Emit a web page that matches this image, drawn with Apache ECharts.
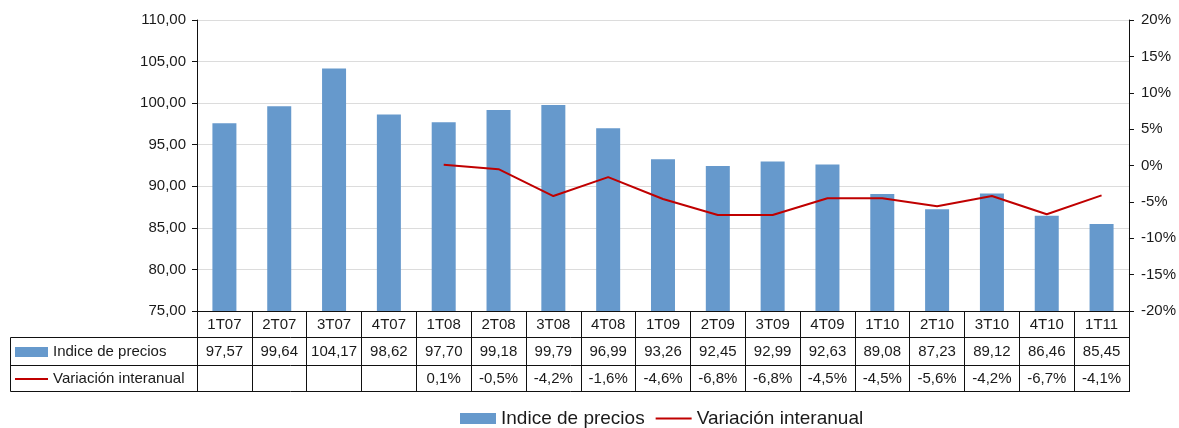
<!DOCTYPE html>
<html><head><meta charset="utf-8">
<script src="https://cdn.jsdelivr.net/npm/echarts@6/dist/echarts.min.js"></script>
<style>html,body{margin:0;padding:0;background:#fff}#c{width:1179px;height:428px}</style>
</head><body><div id="c"></div>
<script>
const categories = ['1T07','2T07','3T07','4T07','1T08','2T08','3T08','4T08','1T09','2T09','3T09','4T09','1T10','2T10','3T10','4T10','1T11'];
const indicePrecios = [97.57,99.64,104.17,98.62,97.70,99.18,99.79,96.99,93.26,92.45,92.99,92.63,89.08,87.23,89.12,86.46,85.45];
const variacion = [null,null,null,null,0.1,-0.5,-4.2,-1.6,-4.6,-6.8,-6.8,-4.5,-4.5,-5.6,-4.2,-6.7,-4.1];
const seriesNames = ['Indice de precios','Variación interanual'];

const FONT = '"Liberation Sans", Arial, sans-serif';
const TXT = '#1a1a1a';
const fmt2 = v => v.toFixed(2).replace('.', ',');
const fmtPct = v => v == null ? '' : v.toFixed(1).replace('.', ',') + '%';

const chart = echarts.init(document.getElementById('c'), null, {renderer:'canvas'});
const lab = {fontFamily: FONT, fontSize: 15, color: TXT};
chart.setOption({
  animation: false,
  textStyle: {fontFamily: FONT},
  grid: {left: 197, right: 49, top: 20, bottom: 117, containLabel: false},
  legend: {
    left: 455, top: 404, itemWidth: 36, itemHeight: 11, itemGap: 10,
    textStyle: {fontFamily: FONT, fontSize: 19, color: TXT},
    data: [{name: seriesNames[0], icon: 'rect'},
           {name: seriesNames[1], itemStyle: {opacity: 0}, lineStyle: {color: '#c00000', width: 2}}]
  },
  xAxis: [
    {type: 'category', data: categories, position: 'bottom', boundaryGap: true,
     axisLine: {onZero: false, lineStyle: {color: '#111', width: 1}},
     axisTick: {show: true, length: 80, lineStyle: {color: '#111'}},
     axisLabel: Object.assign({margin: 6, interval: 0}, lab)},
    {type: 'category', data: categories, position: 'bottom', offset: 27,
     axisLine: {show: false, onZero: false}, axisTick: {show: false},
     axisLabel: Object.assign({margin: 6, interval: 0, formatter: (v, i) => fmt2(indicePrecios[i])}, lab)},
    {type: 'category', data: categories, position: 'bottom', offset: 54,
     axisLine: {show: false, onZero: false}, axisTick: {show: false},
     axisLabel: Object.assign({margin: 6, interval: 0, formatter: (v, i) => fmtPct(variacion[i])}, lab)}
  ],
  yAxis: [
    {type: 'value', min: 75, max: 110, interval: 5, position: 'left',
     axisLine: {show: true, onZero: false, lineStyle: {color: '#111'}},
     axisTick: {show: true, length: 5, lineStyle: {color: '#111'}},
     splitLine: {show: true, lineStyle: {color: '#dcdcdc', width: 1}},
     axisLabel: Object.assign({margin: 11, formatter: v => fmt2(v)}, lab)},
    {type: 'value', min: -20, max: 20, interval: 5, position: 'right',
     axisLine: {show: true, onZero: false, lineStyle: {color: '#111'}},
     axisTick: {show: true, length: 5, lineStyle: {color: '#111'}},
     splitLine: {show: false},
     axisLabel: Object.assign({margin: 12, formatter: v => v + '%'}, lab)}
  ],
  series: [
    {name: seriesNames[0], type: 'bar', data: indicePrecios, barWidth: 24,
     itemStyle: {color: '#6699cc'}, xAxisIndex: 0, yAxisIndex: 0},
    {name: seriesNames[1], type: 'line', data: variacion, symbol: 'none', showSymbol: false,
     lineStyle: {color: '#c00000', width: 2}, itemStyle: {color: '#c00000'},
     xAxisIndex: 0, yAxisIndex: 1}
  ],
  graphic: [
    {type: 'line', shape: {x1: 10.5, y1: 337.5, x2: 1130, y2: 337.5}, style: {stroke: '#111', lineWidth: 1}},
    {type: 'line', shape: {x1: 10.5, y1: 365.5, x2: 1130, y2: 365.5}, style: {stroke: '#111', lineWidth: 1}},
    {type: 'line', shape: {x1: 10.5, y1: 391.5, x2: 1130, y2: 391.5}, style: {stroke: '#111', lineWidth: 1}},
    {type: 'line', shape: {x1: 10.5, y1: 337.5, x2: 10.5, y2: 391.5}, style: {stroke: '#111', lineWidth: 1}},
    {type: 'rect', shape: {x: 15, y: 347, width: 33, height: 10}, style: {fill: '#6699cc'}},
    {type: 'text', left: 53, top: 344, style: {text: seriesNames[0], font: '15px ' + FONT, fill: TXT}},
    {type: 'line', shape: {x1: 15, y1: 379, x2: 48, y2: 379}, style: {stroke: '#c00000', lineWidth: 2}},
    {type: 'text', left: 53, top: 371, style: {text: seriesNames[1], font: '15px ' + FONT, fill: TXT}}
  ]
});
</script></body></html>
